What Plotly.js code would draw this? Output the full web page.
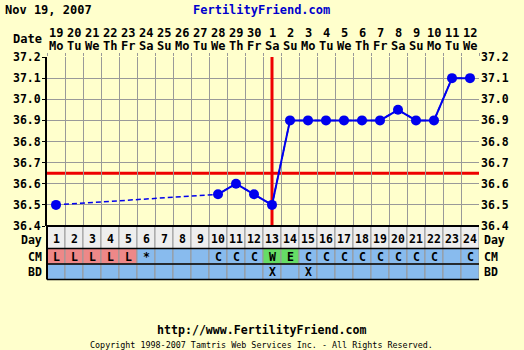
<!DOCTYPE html>
<html>
<head>
<meta charset="utf-8">
<script src="https://cdn.plot.ly/plotly-3.0.1.min.js"></script>
<style>html,body{margin:0;padding:0;background:#ffffcc;}#chart{width:524px;height:350px;}</style>
</head>
<body>
<div id="chart"></div>
<script>
// ---- data ----
const chartDate = "Nov 19, 2007";
const siteName = "FertilityFriend.com";
const footerUrl = "http://www.FertilityFriend.com";
const copyright = "Copyright 1998-2007 Tamtris Web Services Inc. - All Rights Reserved.";
const cycleDays = [1,2,3,4,5,6,7,8,9,10,11,12,13,14,15,16,17,18,19,20,21,22,23,24];
const dateNums = ["19","20","21","22","23","24","25","26","27","28","29","30","1","2","3","4","5","6","7","8","9","10","11","12"];
const weekdays = ["Mo","Tu","We","Th","Fr","Sa","Su","Mo","Tu","We","Th","Fr","Sa","Su","Mo","Tu","We","Th","Fr","Sa","Su","Mo","Tu","We"];
const temps = [36.5,null,null,null,null,null,null,null,null,36.55,36.6,36.55,36.5,36.9,36.9,36.9,36.9,36.9,36.9,36.95,36.9,36.9,37.1,37.1];
const cmCodes = ["L","L","L","L","L","*","","","","C","C","C","W","E","C","C","C","C","C","C","C","C","","C"];
const bdCodes = ["","","","","","","","","","","","","X","","X","","","","","","","","",""];
const coverline = 36.65;
const ovulationDay = 13;
const tempRange = [36.4, 37.2];

// ---- styles / layout helpers ----
const FONT = "DejaVu Sans Mono, monospace";
const plotL = 47, plotR = 479, plotT = 57, plotB = 226;
const py = p => (plotB - p) / (plotB - plotT);
const pxp = p => (p - plotL) / (plotR - plotL);
const rowBounds = [226, 248.5, 264, 279.5];
const cmColor = c => (c === "L" ? "#ee8888" : (c === "W" || c === "E") ? "#66dd66" : "#88bbee");
const GRID = "#999999";
const BLUE = "#0000ee";
const RED = "#ee0000";

const traces = [
  {x: cycleDays, y: temps, mode: "lines", connectgaps: true, line: {color: BLUE, width: 1.5, dash: "5px,3px"}, hoverinfo: "skip", showlegend: false},
  {x: cycleDays, y: temps, mode: "lines+markers", connectgaps: false, line: {color: BLUE, width: 2}, marker: {color: BLUE, size: 10}, showlegend: false},
  {x: [cycleDays[0]], y: [temps[0]], yaxis: "y2", mode: "markers", marker: {opacity: 0}, hoverinfo: "skip", showlegend: false}
];

const shapes = [];
const annotations = [];
const txt = (text, x, y, opts = {}) => Object.assign({
  text, x, y, xref: "x", yref: "paper", showarrow: false,
  font: {family: FONT, size: 12, color: "#000", weight: "bold"}, xanchor: "center", yanchor: "middle"
}, opts);
const small = {family: FONT, size: 11.5, color: "#000", weight: "bold"};

// table cells
cycleDays.forEach((d, i) => {
  const fills = ["#eeeeee", cmColor(cmCodes[i]), "#88bbee"];
  for (let r = 0; r < 3; r++) {
    shapes.push({type: "rect", xref: "x", yref: "paper", x0: d - 0.5, x1: d + 0.5,
      y0: py(rowBounds[r + 1]), y1: py(rowBounds[r]), fillcolor: fills[r], line: {color: GRID, width: 1}, layer: "above"});
  }
  annotations.push(txt(dateNums[i], d, py(33)));
  annotations.push(txt(weekdays[i], d, py(46)));
  annotations.push(txt(String(d), d, py(239), {font: small}));
  if (cmCodes[i]) annotations.push(txt(cmCodes[i], d, py(256.5), {font: small}));
  if (bdCodes[i]) annotations.push(txt(bdCodes[i], d, py(272), {font: small}));
});
// table borders
rowBounds.forEach((b, k) => shapes.push({type: "line", xref: "paper", yref: "paper", x0: 0, x1: 1, y0: py(b), y1: py(b),
  line: {color: "#000", width: k === 0 ? 2 : 1.5}, layer: "above"}));
shapes.push({type: "line", xref: "paper", yref: "paper", x0: 0, x1: 0, y0: py(rowBounds[0]), y1: py(rowBounds[3]), line: {color: "#000", width: 2}, layer: "above"});

// coverline & ovulation line
shapes.push({type: "line", xref: "paper", yref: "y", x0: 0, x1: 1, y0: coverline, y1: coverline, line: {color: RED, width: 3}, layer: "between"});
shapes.push({type: "line", xref: "x", yref: "y", x0: ovulationDay, x1: ovulationDay, y0: tempRange[0], y1: tempRange[1], line: {color: RED, width: 3}, layer: "between"});

// side labels
const leftLab = (t, p) => txt(t, pxp(44), py(p), {xref: "paper", xanchor: "right", font: small});
const rightLab = (t, p) => txt(t, pxp(482), py(p), {xref: "paper", xanchor: "left", font: small});
annotations.push(txt("Date", pxp(44), py(39), {xref: "paper", xanchor: "right"}));
annotations.push(leftLab("Day", 239.5), rightLab("Day", 239.5));
annotations.push(leftLab("CM", 256.5), rightLab("CM", 256.5));
annotations.push(leftLab("BD", 272), rightLab("BD", 272));
// titles
annotations.push(txt(chartDate, pxp(3), py(10), {xref: "paper", xanchor: "left"}));
annotations.push(txt(siteName, pxp(261), py(10), {xref: "paper", font: {family: FONT, size: 12, color: "#0000cc", weight: "bold"}}));
annotations.push(txt(footerUrl, pxp(261), py(330), {xref: "paper", font: {family: FONT, size: 11.6, color: "#000", weight: "bold"}}));
annotations.push(txt(copyright, pxp(261), py(345), {xref: "paper", font: {family: FONT, size: 8.4, color: "#000"}}));

const tickVals = [];
for (let v = tempRange[0]; v <= tempRange[1] + 1e-9; v += 0.1) tickVals.push(+v.toFixed(1));
const tickFont = {family: FONT, size: 11.5, color: "#000", weight: "bold"};

const layout = {
  width: 524, height: 350,
  margin: {l: plotL, r: 524 - plotR, t: plotT, b: 350 - plotB, pad: 0},
  paper_bgcolor: "#ffffcc", plot_bgcolor: "#ffffcc",
  showlegend: false,
  xaxis: {range: [0.5, 24.5], side: "top", tickmode: "array", tickvals: cycleDays.map(d => d - 0.5).concat([24.5]),
    showticklabels: false, ticks: "outside", ticklen: 3, tickcolor: GRID, showgrid: true, gridcolor: GRID, gridwidth: 1,
    zeroline: false, showline: false, fixedrange: true},
  yaxis: {range: tempRange, tickmode: "array", tickvals: tickVals, ticktext: tickVals.map(v => v.toFixed(1)),
    ticks: "outside", ticklen: 3, tickcolor: "#000", showline: true, linecolor: "#000", linewidth: 2,
    showgrid: true, gridcolor: GRID, gridwidth: 1, zeroline: false, ticklabelstandoff: -1, tickfont: tickFont},
  yaxis2: {range: tempRange, overlaying: "y", side: "right", tickmode: "array", tickvals: tickVals, ticktext: tickVals.map(v => v.toFixed(1)),
    ticks: "", showline: false, showgrid: false, zeroline: false, ticklabelstandoff: 1, tickfont: tickFont},
  shapes, annotations
};

Plotly.newPlot("chart", traces, layout, {displayModeBar: false, staticPlot: true});
</script>
</body>
</html>
